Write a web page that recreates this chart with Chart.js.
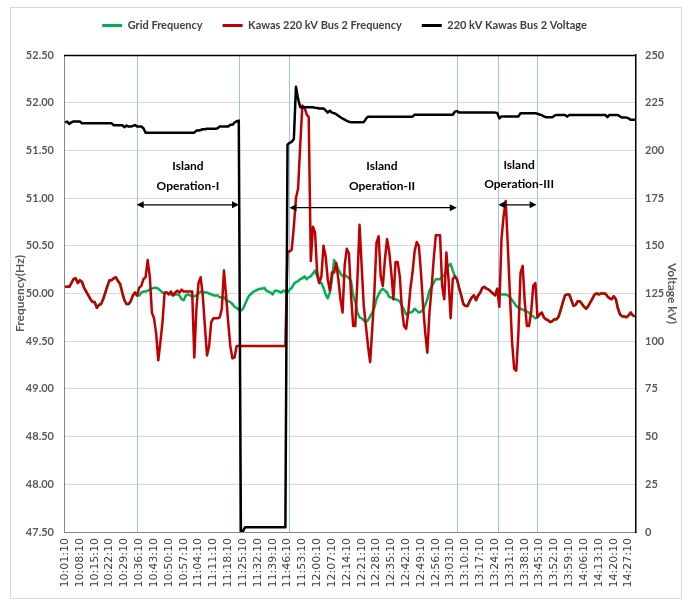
<!DOCTYPE html>
<html>
<head>
<meta charset="utf-8">
<script src="https://cdn.jsdelivr.net/npm/chart.js@4.4.1/dist/chart.umd.min.js"></script>
<style>
  html, body { margin: 0; padding: 0; background: #fff; }
</style>
</head>
<body>
<canvas id="mygra" width="689" height="603"></canvas>
<script>
// one reading per minute, 10:01:10 .. 14:30:10
const startMinute = 10 * 60 + 1;
const tickEvery = 7;

const gridFrequency = [
  50.07,50.07,50.07,50.11,50.15,50.16,50.11,50.14,50.12,50.06,
  50.02,49.98,49.94,49.91,49.91,49.85,49.88,49.89,49.94,50.01,
  50.08,50.14,50.14,50.16,50.17,50.13,50.10,50.01,49.93,49.89,
  49.89,49.92,49.98,50.01,49.98,49.98,50.01,50.02,50.02,50.03,
  50.04,50.05,50.06,50.06,50.05,50.03,50.01,50.00,50.01,50.00,
  49.99,49.98,49.99,49.99,49.98,49.94,49.93,49.98,49.99,49.98,
  49.97,49.97,49.98,50.00,50.02,50.02,50.01,50.01,50.00,49.99,
  49.98,49.98,49.98,49.96,49.96,49.96,49.93,49.92,49.91,49.89,
  49.86,49.85,49.83,49.82,49.84,49.89,49.94,49.98,50.00,50.02,
  50.03,50.04,50.05,50.05,50.06,50.03,50.02,50.01,49.99,50.03,
  50.03,50.02,50.01,50.03,50.02,50.01,50.04,50.06,50.10,50.12,
  50.13,50.15,50.16,50.18,50.15,50.17,50.18,50.21,50.24,50.18,
  50.11,50.11,50.06,49.99,49.95,50.01,50.15,50.35,50.31,50.25,
  50.21,50.18,50.19,50.18,50.16,50.13,49.98,49.91,49.80,49.75,
  49.74,49.72,49.70,49.72,49.76,49.80,49.85,49.94,49.99,50.03,
  50.05,50.03,50.01,49.96,49.96,49.94,49.94,49.93,49.92,49.87,
  49.83,49.78,49.80,49.80,49.81,49.84,49.82,49.80,49.81,49.83,
  49.88,49.94,50.03,50.07,50.11,50.15,50.15,50.15,50.18,50.19,
  50.25,50.29,50.31,50.24,50.18,50.15,50.06,49.98,49.89,49.87,
  49.87,49.92,49.96,49.98,49.93,49.98,50.01,50.06,50.07,50.05,
  50.04,50.02,50.00,49.98,50.05,50.00,49.99,49.99,49.99,49.98,
  49.96,49.93,49.90,49.87,49.85,49.84,49.83,49.82,49.81,49.80,
  49.77,49.76,49.74,49.75,49.78,49.80,49.75,49.73,49.72,49.70,
  49.71,49.73,49.73,49.76,49.83,49.91,49.98,49.99,49.99,49.93,
  49.87,49.88,49.92,49.92,49.89,49.86,49.84,49.87,49.91,49.95,
  49.99,50.00,49.99,50.00,50.00,50.00,49.97,49.95,49.94,49.97,
  49.94,49.84,49.78,49.76,49.76,49.75,49.77,49.80,49.77,49.76
];

const kawasFrequency = [
  50.07,50.07,50.07,50.11,50.15,50.16,50.11,50.14,50.12,50.06,
  50.02,49.98,49.94,49.91,49.91,49.85,49.88,49.89,49.94,50.01,
  50.08,50.14,50.14,50.16,50.17,50.13,50.10,50.01,49.93,49.89,
  49.89,49.92,49.98,50.01,49.98,50.06,50.08,50.15,50.17,50.35,
  50.18,49.80,49.74,49.58,49.30,49.49,49.70,50.01,50.01,49.99,
  50.02,49.98,50.01,50.03,50.01,50.04,50.02,50.02,50.02,50.02,
  50.02,49.33,49.84,50.11,50.17,49.98,49.66,49.35,49.45,49.70,
  49.74,49.74,49.74,49.75,49.84,50.24,49.98,49.70,49.45,49.32,
  49.33,49.45,49.45,49.45,49.45,49.45,49.45,49.45,49.45,49.45,
  49.45,49.45,49.45,49.45,49.45,49.45,49.45,49.45,49.45,49.45,
  49.45,49.45,49.45,49.45,49.45,50.44,50.44,50.46,50.70,51.00,
  51.10,51.55,51.97,51.95,51.88,51.85,50.34,50.70,50.64,50.22,
  50.11,50.18,50.50,50.39,50.15,50.03,50.22,50.22,50.32,50.15,
  49.94,49.80,50.30,50.47,50.42,49.98,49.66,49.66,50.15,50.72,
  50.29,49.87,49.66,49.45,49.28,49.63,50.01,50.53,50.60,50.18,
  50.08,50.36,50.57,50.44,50.22,49.94,50.33,50.33,50.18,49.84,
  49.66,49.63,49.80,50.05,50.22,50.44,50.54,50.50,50.22,49.87,
  49.59,49.38,49.80,50.05,50.36,50.61,50.61,50.61,50.08,49.94,
  50.43,50.15,49.74,50.15,50.18,50.15,50.06,49.98,49.89,49.87,
  49.87,49.92,49.96,49.98,49.93,49.98,50.01,50.06,50.07,50.05,
  50.04,50.02,50.00,49.98,50.05,49.86,50.57,50.81,50.97,50.50,
  49.98,49.49,49.21,49.19,49.59,50.22,50.29,49.91,49.66,49.66,
  49.80,50.08,50.11,49.75,49.78,49.80,49.75,49.73,49.72,49.70,
  49.71,49.73,49.73,49.76,49.83,49.91,49.98,49.99,49.99,49.93,
  49.87,49.88,49.92,49.92,49.89,49.86,49.84,49.87,49.91,49.95,
  49.99,50.00,49.99,50.00,50.00,50.00,49.97,49.95,49.94,49.97,
  49.94,49.84,49.78,49.76,49.76,49.75,49.77,49.80,49.77,49.76
];

const busVoltage = [
  214.7,215.1,213.9,214.7,215.2,215.2,215.1,215.1,214.2,214.2,
  214.2,214.2,214.2,214.2,214.2,214.2,214.2,214.2,214.2,214.2,
  214.2,214.2,214.2,213.2,213.2,213.2,213.2,213.2,212.2,213.0,
  212.5,212.5,212.8,213.3,212.5,212.5,212.5,211.6,209.3,209.3,
  209.3,209.3,209.3,209.3,209.3,209.3,209.3,209.3,209.3,209.3,
  209.3,209.3,209.3,209.3,209.3,209.3,209.3,209.3,209.3,209.3,
  209.3,209.3,210.4,210.4,210.7,211.1,211.1,211.3,211.3,211.3,
  211.3,211.3,211.6,212.5,212.5,212.5,212.5,212.5,213.4,213.4,
  214.6,215.3,215.6,0.5,0.5,2.5,2.5,2.5,2.5,2.5,
  2.5,2.5,2.5,2.5,2.5,2.5,2.5,2.5,2.5,2.5,
  2.5,2.5,2.5,2.5,2.5,203.0,204.0,204.5,206.0,233.4,
  227.0,222.6,222.6,222.6,222.6,222.6,222.6,222.6,222.3,222.2,
  222.0,222.0,222.0,221.0,219.8,220.8,219.8,219.5,219.0,218.2,
  217.4,216.7,216.1,215.5,215.0,214.8,214.8,214.8,214.8,214.8,
  214.8,214.8,216.5,217.7,217.7,217.7,217.7,217.7,217.7,217.7,
  217.7,217.7,217.7,217.7,217.7,217.7,217.7,217.7,217.7,217.7,
  217.7,217.7,217.7,217.7,217.7,218.7,218.7,218.7,218.7,218.7,
  218.7,218.7,218.7,218.7,218.7,218.7,218.7,218.7,218.7,218.7,
  218.7,218.7,218.7,218.7,220.3,220.6,219.8,219.8,219.8,219.8,
  219.8,219.8,219.8,219.8,219.8,219.8,219.8,219.8,219.8,219.8,
  219.8,219.8,219.8,219.8,219.6,216.8,217.8,217.8,217.8,217.8,
  217.8,217.8,217.8,217.8,217.8,219.5,219.5,219.5,219.5,219.5,
  219.5,219.5,219.5,219.2,218.8,218.5,217.8,217.4,217.4,217.4,
  217.4,218.2,218.6,218.6,218.6,218.6,218.6,217.7,218.6,218.6,
  218.6,218.6,218.6,218.6,218.6,218.6,218.6,218.6,218.6,218.6,
  218.6,218.6,218.6,218.6,218.6,218.6,217.4,218.6,218.6,218.6,
  218.6,218.6,217.7,217.2,217.2,217.2,216.8,216.0,216.0,216.0
];

// island operation periods, in minute index along the category axis
const islandSpans = [[33.8, 82.1], [105.9, 184.9], [204.5, 222.6]];
const islandNames = ['Operation-I', 'Operation-II', 'Operation-III'];
const islandTextAt = [58.0, 149.6, 214.3];
const islandTextHz = [[51.33, 51.13], [51.33, 51.13], [51.35, 51.15]];
const islandArrowHz = [50.93, 50.90, 50.93];

function timeLabel(m) {
    const h = Math.floor(m / 60), mm = m % 60;
    return h + ':' + String(mm).padStart(2, '0') + ':10';
}
const labels = gridFrequency.map((_, i) => timeLabel(startMinute + i));

const face = 'Lato, "Liberation Sans", sans-serif';

const framePlugin = {
    id: 'frame',
    beforeLayout(chart) {
        const lg = chart.legend;
        if (lg && !lg._fixedFit) {
            const fit = lg.fit;
            lg.fit = function() { fit.call(this); this.height = 55; };
            lg._fixedFit = true;
        }
    },
    beforeDraw(chart) {
        const c = chart.ctx;
        c.save();
        c.fillStyle = '#fff';
        c.fillRect(0, 0, chart.width, chart.height);
        c.strokeStyle = '#d9d9d9';
        c.lineWidth = 1;
        c.strokeRect(10.5, 7.5, 671, 591);
        c.restore();
    },
    afterDraw(chart) {
        const c = chart.ctx, a = chart.chartArea;
        c.save();
        c.strokeStyle = '#000';
        c.lineWidth = 1.5;
        c.beginPath();
        c.moveTo(a.left, a.top + 0.5);
        c.lineTo(a.right, a.top + 0.5);
        c.stroke();
        c.restore();
    }
};

function arrowHead(c, x, y, dir) {
    c.beginPath();
    c.moveTo(x, y);
    c.lineTo(x - dir * 7, y - 3.5);
    c.lineTo(x - dir * 7, y + 3.5);
    c.closePath();
    c.fill();
}

const islandPlugin = {
    id: 'islands',
    beforeDatasetsDraw(chart) {
        const c = chart.ctx, a = chart.chartArea, x = chart.scales.x;
        c.save();
        c.strokeStyle = '#9dc3e6';
        c.lineWidth = 1;
        islandSpans.forEach(span => span.forEach(m => {
            const px = Math.round(x.getPixelForValue(m)) + 0.5;
            c.beginPath();
            c.moveTo(px, a.top);
            c.lineTo(px, a.bottom);
            c.stroke();
        }));
        c.restore();
    },
    afterDatasetsDraw(chart) {
        const c = chart.ctx, x = chart.scales.x, y = chart.scales.y;
        c.save();
        c.fillStyle = '#000';
        c.strokeStyle = '#000';
        c.lineWidth = 1.2;
        c.font = 'bold 12px ' + face;
        c.textAlign = 'center';
        c.textBaseline = 'middle';
        islandNames.forEach((name, k) => {
            const tx = x.getPixelForValue(islandTextAt[k]);
            c.fillText('Island', tx, y.getPixelForValue(islandTextHz[k][0]));
            c.fillText(name, tx, y.getPixelForValue(islandTextHz[k][1]));
            const x0 = x.getPixelForValue(islandSpans[k][0]);
            const x1 = x.getPixelForValue(islandSpans[k][1]);
            const ay = y.getPixelForValue(islandArrowHz[k]);
            c.beginPath();
            c.moveTo(x0 + 3, ay);
            c.lineTo(x1 - 3, ay);
            c.stroke();
            arrowHead(c, x0, ay, -1);
            arrowHead(c, x1, ay, 1);
        });
        c.restore();
    }
};

window.onload = function() {
    const data = {
        labels: labels,
        datasets: [{
            label: 'Grid Frequency',
            data: gridFrequency,
            borderColor: '#00b050',
            backgroundColor: '#00b050',
            yAxisID: 'y',
            order: 3
        }, {
            label: 'Kawas 220 kV Bus 2 Frequency',
            data: kawasFrequency,
            borderColor: '#c00000',
            backgroundColor: '#c00000',
            yAxisID: 'y',
            order: 2
        }, {
            label: '220 kV Kawas Bus 2 Voltage',
            data: busVoltage,
            borderColor: '#000000',
            backgroundColor: '#000000',
            yAxisID: 'y1',
            order: 1
        }]
    };

    const config = {
        type: 'line',
        data: data,
        options: {
            responsive: false,
            animation: false,
            devicePixelRatio: 1,
            layout: { padding: 0 },
            elements: {
                point: { radius: 0 },
                line: { borderWidth: 2.5, tension: 0, borderJoinStyle: 'round' }
            },
            plugins: {
                tooltip: { enabled: false },
                legend: {
                    position: 'top',
                    labels: {
                        boxWidth: 20,
                        boxHeight: 3,
                        padding: 20,
                        color: '#404040',
                        font: { family: face, size: 11, weight: 'bold' },
                        sort: (a, b) => a.datasetIndex - b.datasetIndex,
                        generateLabels: chart => Chart.defaults.plugins.legend.labels
                            .generateLabels(chart).map(l => Object.assign(l, { lineWidth: 0 }))
                    }
                }
            },
            scales: {
                x: {
                    offset: true,
                    grid: { display: false, drawTicks: false },
                    border: { color: '#868686' },
                    ticks: {
                        autoSkip: false,
                        minRotation: 90,
                        maxRotation: 90,
                        padding: 6,
                        color: '#404040',
                        font: { family: '"DejaVu Sans", sans-serif', size: 11 },
                        callback: function(v, i) {
                            return i % tickEvery === 0 ? this.getLabelForValue(v) : null;
                        }
                    },
                    afterFit: s => { s.height = 71; }
                },
                y: {
                    position: 'left',
                    min: 47.5,
                    max: 52.5,
                    grid: { color: '#d9d9d9', drawTicks: false },
                    border: { color: '#868686' },
                    ticks: {
                        stepSize: 0.5,
                        padding: 10,
                        color: '#595959',
                        font: { family: face, size: 11, weight: 'bold' },
                        callback: v => v.toFixed(2)
                    },
                    title: {
                        display: true,
                        text: 'Frequency(Hz)',
                        color: '#595959',
                        font: { family: face, size: 12, weight: 'bold' },
                        padding: { top: 13, bottom: 0 }
                    },
                    afterFit: s => { s.width = 64; }
                },
                y1: {
                    position: 'right',
                    min: 0,
                    max: 250,
                    grid: { drawOnChartArea: false, drawTicks: false },
                    border: { color: '#000000', width: 1.5 },
                    ticks: {
                        stepSize: 25,
                        padding: 9,
                        color: '#595959',
                        font: { family: face, size: 11, weight: 'bold' }
                    },
                    title: {
                        display: true,
                        text: 'Voltage kV)',
                        color: '#595959',
                        font: { family: face, size: 12, weight: 'bold' },
                        padding: { top: 10, bottom: 0 }
                    },
                    afterFit: s => { s.width = 53; }
                }
            }
        },
        plugins: [framePlugin, islandPlugin]
    };

    const ctx = document.getElementById('mygra').getContext('2d');
    window.myChart = new Chart(ctx, config);
};
</script>
</body>
</html>
